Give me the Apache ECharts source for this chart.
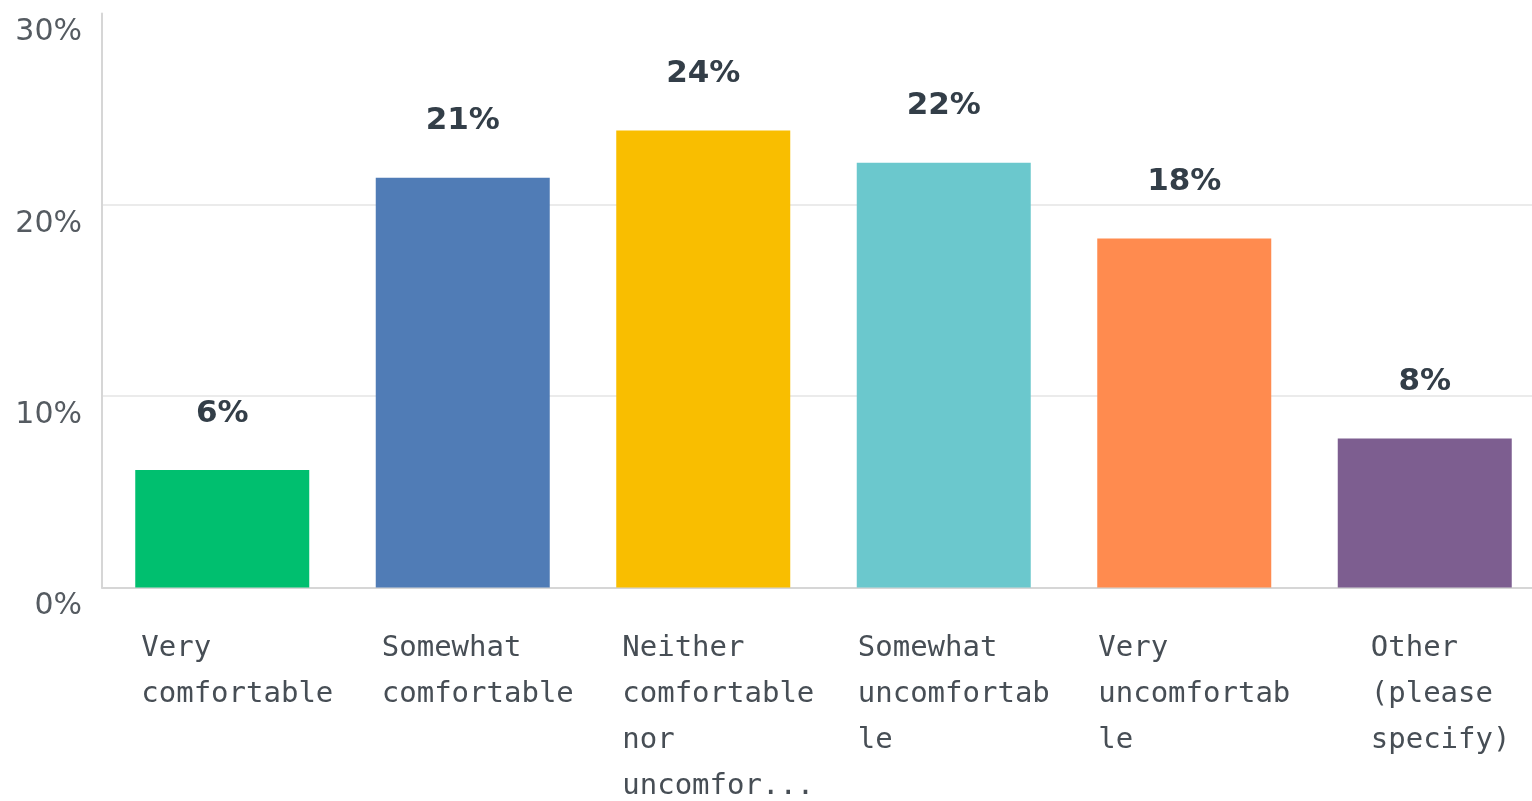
<!DOCTYPE html>
<html>
<head>
<meta charset="utf-8">
<script src="https://cdn.jsdelivr.net/npm/echarts@6/dist/echarts.min.js"></script>
<style>
  html, body { margin: 0; padding: 0; background: #fff; overflow: hidden; }
  /* the original plot runs a little past the right edge of the picture */
  #chart { width: 1545px; height: 801px; }
</style>
</head>
<body>
<div id="chart"></div>
<script>
// categories, as wrapped in the original
const categories = [
  "Very\ncomfortable",
  "Somewhat\ncomfortable",
  "Neither\ncomfortable\nnor\nuncomfor...",
  "Somewhat\nuncomfortab\nle",
  "Very\nuncomfortab\nle",
  "Other\n(please\nspecify)"
];
// percent of responses
const values = [6.14, 21.42, 23.88, 22.2, 18.24, 7.79];
const barColors = ["#00bf6f", "#507cb6", "#f9be00", "#6bc8cd", "#ff8b4f", "#7d5e90"];
const yTicks = [0, 10, 20, 30];

// which rich style each x label uses (left offset of the text block)
const labelStyle = ["a", "a", "a", "b", "b", "c"];

const chart = echarts.init(document.getElementById("chart"));

chart.setOption({
  animation: false,
  grid: {
    left: 102,
    top: 13.5,
    right: 0,
    bottom: 211.5
  },
  xAxis: {
    type: "category",
    data: categories,
    axisLine: { show: true, lineStyle: { color: "#d6d6d6", width: 2 } },
    axisTick: { show: false },
    axisLabel: {
      interval: 0,
      margin: 38,
      verticalAlign: "top",
      formatter: function (val, idx) {
        const s = labelStyle[idx];
        return val.split("\n").map(function (line) {
          return "{" + s + "|" + line + "}";
        }).join("\n");
      },
      rich: {
        a: { width: 162, align: "left", fontFamily: "DejaVu Sans Mono", fontSize: 29, lineHeight: 46, color: "#474e55" },
        b: { width: 172, align: "left", fontFamily: "DejaVu Sans Mono", fontSize: 29, lineHeight: 46, color: "#474e55" },
        c: { width: 108, align: "left", fontFamily: "DejaVu Sans Mono", fontSize: 29, lineHeight: 46, color: "#474e55" }
      }
    }
  },
  yAxis: {
    type: "value",
    min: yTicks[0],
    max: yTicks[yTicks.length - 1],
    interval: 10,
    axisLine: { show: true, lineStyle: { color: "#d6d6d6", width: 2 } },
    axisTick: { show: false },
    splitLine: {
      lineStyle: {
        color: ["#ebebeb", "#ebebeb", "#ebebeb", "rgba(0,0,0,0)"],
        width: 2
      }
    },
    axisLabel: {
      margin: 20,
      verticalAlign: "top",
      padding: [4, 0, 0, 0],
      fontFamily: "DejaVu Sans",
      fontSize: 30,
      color: "#555b61",
      formatter: "{value}%"
    }
  },
  series: [
    {
      type: "bar",
      barWidth: 174,
      data: values.map(function (v, i) {
        return { value: v, itemStyle: { color: barColors[i] } };
      }),
      label: {
        show: true,
        position: "top",
        distance: 41,
        fontFamily: "DejaVu Sans",
        fontWeight: "bold",
        fontSize: 31,
        color: "#333e48",
        formatter: function (p) {
          return Math.round(p.value) + "%";
        }
      }
    }
  ]
});

window.onresize = function () {
  chart.resize();
};
</script>
</body>
</html>
